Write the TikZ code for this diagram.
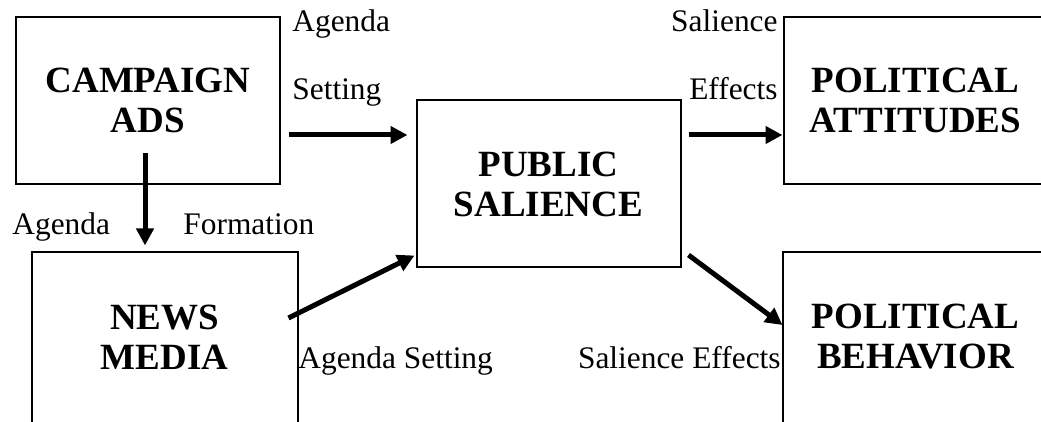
\documentclass[tikz,border=0pt]{standalone}
\usepackage{fontspec}
\setmainfont{Liberation Serif}
\usetikzlibrary{arrows.meta,calc}

\tikzset{
  stage/.style={draw, line width=1pt, inner sep=0pt, minimum width=132pt,
    minimum height=83.5pt, align=center,
    font=\fontsize{18.5}{20}\selectfont\bfseries},
  % lower boxes run off the bottom of the page: no bottom edge
  openstage/.style={stage, draw=none},
  lbl/.style={inner sep=0pt, font=\fontsize{15.7}{18}\selectfont},
  flow/.style={line width=2.5pt, -{Triangle[length=8.5pt,width=8.5pt]}}
}

\begin{document}
\begin{tikzpicture}[x=0.5pt,y=-0.5pt]
\useasboundingbox (0,0) rectangle (1041,422);
\clip (0,0) rectangle (1041,422);
% Boxes
\node[stage] (camp) at (148,100.5) {CAMPAIGN\\ADS};
\node[openstage] (news) at (164.5,337) {NEWS\\MEDIA};
\node[stage] (pub)  at (548.5,184) {PUBLIC\\SALIENCE};
\node[stage] (att)  at (915.5,100.5) {POLITICAL\\ATTITUDES};
\node[openstage] (beh)  at (915.5,337) {POLITICAL\\BEHAVIOR};
\draw[line width=1pt] ($(news.south west)+(0,10)$) -- (news.north west)
  -- (news.north east) -- ($(news.south east)+(0,10)$);
\draw[line width=1pt] ($(beh.south west)+(0,10)$) -- (beh.north west)
  -- (beh.north east) -- ($(beh.south east)+(0,10)$);
% Arrows
\draw[flow] ($(camp.south)+(-3,-32)$) -- ($(news.north)+(-19.5,-7)$);
\draw[flow] ($(camp.east)+(8,34.5)$) -- ($(pub.west)+(-8,-49)$);
\draw[flow] ($(news.east)+(-9,-19)$) -- ($(pub.south west)+(-1,-13)$);
\draw[flow] ($(pub.east)+(7,-49)$) -- ($(att.west)+(0,34.5)$);
\draw[flow] ($(pub.east)+(7,71)$) -- ($(beh.west)+(0,-12)$);
% Labels
\node[lbl, anchor=base west] (agTop) at (292,32) {Agenda};
\node[lbl, anchor=base west] (setTop) at (292,100) {Setting};
\node[lbl, anchor=base west] (agLeft) at (12,235) {Agenda};
\node[lbl, anchor=base west] (form) at (183,235) {Formation};
\node[lbl, anchor=base west] (agSet) at (298,369) {Agenda Setting};
\node[lbl, anchor=base east] (salTop) at (778,32) {Salience};
\node[lbl, anchor=base east] (effTop) at (778,100) {Effects};
\node[lbl, anchor=base east] (salEff) at (781,369) {Salience Effects};
\end{tikzpicture}
\end{document}
